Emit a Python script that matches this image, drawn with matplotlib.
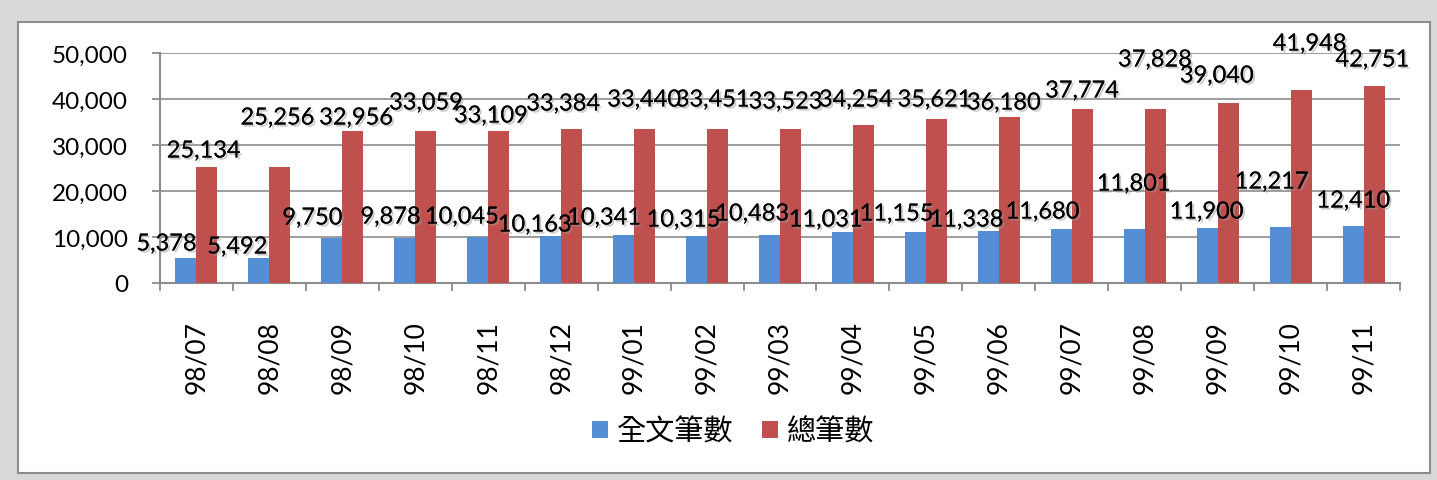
import matplotlib
matplotlib.use("Agg")
import matplotlib.pyplot as plt
import numpy as np
from matplotlib.patches import Rectangle, Patch
import matplotlib.patheffects as pe

# ---------------- data ----------------
categories = ["98/07", "98/08", "98/09", "98/10", "98/11", "98/12",
              "99/01", "99/02", "99/03", "99/04", "99/05", "99/06",
              "99/07", "99/08", "99/09", "99/10", "99/11"]
fulltext_counts = [5378, 5492, 9750, 9878, 10045, 10163, 10341, 10315, 10483,
                   11031, 11155, 11338, 11680, 11801, 11900, 12217, 12410]
total_counts = [25134, 25256, 32956, 33059, 33109, 33384, 33440, 33451, 33523,
                34254, 35621, 36180, 37774, 37828, 39040, 41948, 42751]
series_names = ["全文筆數", "總筆數"]
yticks = [0, 10000, 20000, 30000, 40000, 50000]

# label placement (positions, not data): x offset in category units, y in data units
blue_lab_dx = [-0.41, -0.44, -0.41, -0.34, -0.36, -0.36, -0.41, -0.32, -0.38,
               -0.37, -0.40, -0.44, -0.40, -0.15, -0.15, -0.26, -0.14]
blue_lab_y = [8478, 7826, 14130, 14348, 14348, 12609, 14130, 13696, 15000,
              13696, 15000, 13696, 15435, 21522, 15435, 21957, 17826]
red_lab_dx = [0.10, 0.11, 0.19, 0.15, 0.04, 0.03, 0.14, 0.08, 0.08,
              0.04, 0.12, 0.07, 0.14, 0.14, -0.01, 0.26, 0.12]
red_lab_y = [28696, 35870, 35870, 39130, 36304, 38913, 39783, 39783, 39348,
             39783, 39783, 39130, 41739, 48478, 45000, 51957, 48478]

BLUE = "#558ED5"
RED = "#C0504D"
GRID = "#8C8C8C"

W, H = 1437, 481
fig = plt.figure(figsize=(W / 100, H / 100), dpi=100, facecolor="#D9D9D9")

# white chart area with border
fig.patches.append(Rectangle((18 / W, (H - 474) / H), (1430 - 18) / W, (474 - 23) / H,
                             transform=fig.transFigure, facecolor="white",
                             edgecolor="#8C8C8C", linewidth=1.5, zorder=-10))

ax = fig.add_axes([160 / W, (H - 284) / H, 1240 / W, 230 / H])
ax.set_zorder(1)
ax.set_facecolor("none")

n = len(categories)
x = np.arange(n) + 0.5
bw = 0.288
ax.bar(x - bw / 2, fulltext_counts, width=bw, color=BLUE, zorder=3, label=series_names[0])
ax.bar(x + bw / 2, total_counts, width=bw, color=RED, zorder=3, label=series_names[1])

ax.set_xlim(0, n)
ax.set_ylim(0, 50000)

for yv in yticks[1:]:
    ax.axhline(yv, color=GRID, linewidth=1.2, zorder=1)

for s in ["top", "right"]:
    ax.spines[s].set_visible(False)
for s in ["left", "bottom"]:
    ax.spines[s].set_color(GRID)
    ax.spines[s].set_linewidth(1.5)

ax.set_yticks(yticks)
ax.set_yticklabels([f"{v:,}" for v in yticks], fontfamily="Lato", fontsize=17.5)
ax.tick_params(axis="y", length=6, width=1.3, color=GRID, pad=17)

ax.set_xticks(np.arange(n + 1))
ax.set_xticklabels([])
ax.set_xticks(x, minor=True)
ax.set_xticklabels(categories, minor=True, rotation=90, fontfamily="Lato", fontsize=19)
ax.tick_params(axis="x", which="major", length=6, width=1.3, color=GRID)
ax.tick_params(axis="x", which="minor", length=0, pad=27)

shadow = [pe.withSimplePatchShadow(offset=(1.5, -1.5), shadow_rgbFace="#999999", alpha=0.5),
          pe.Normal()]
for i in range(n):
    ax.text(x[i] + blue_lab_dx[i], blue_lab_y[i], f"{fulltext_counts[i]:,}",
            ha="center", va="center", fontfamily="Lato", fontsize=17,
            zorder=5, clip_on=False, path_effects=shadow)
    ax.text(x[i] + red_lab_dx[i], red_lab_y[i], f"{total_counts[i]:,}",
            ha="center", va="center", fontfamily="Lato", fontsize=17,
            zorder=5, clip_on=False, path_effects=shadow)

handles = [Patch(facecolor=BLUE), Patch(facecolor=RED)]
fig.legend(handles, series_names, loc="center", bbox_to_anchor=(733 / W, 1 - 433 / H),
           ncol=2, frameon=False,
           prop={"family": "Noto Sans CJK TC", "size": 21, "weight": "light"},
           handlelength=0.55, handleheight=0.55, handletextpad=0.3, columnspacing=1.0)

fig.savefig("out.png", dpi=100, facecolor=fig.get_facecolor())
